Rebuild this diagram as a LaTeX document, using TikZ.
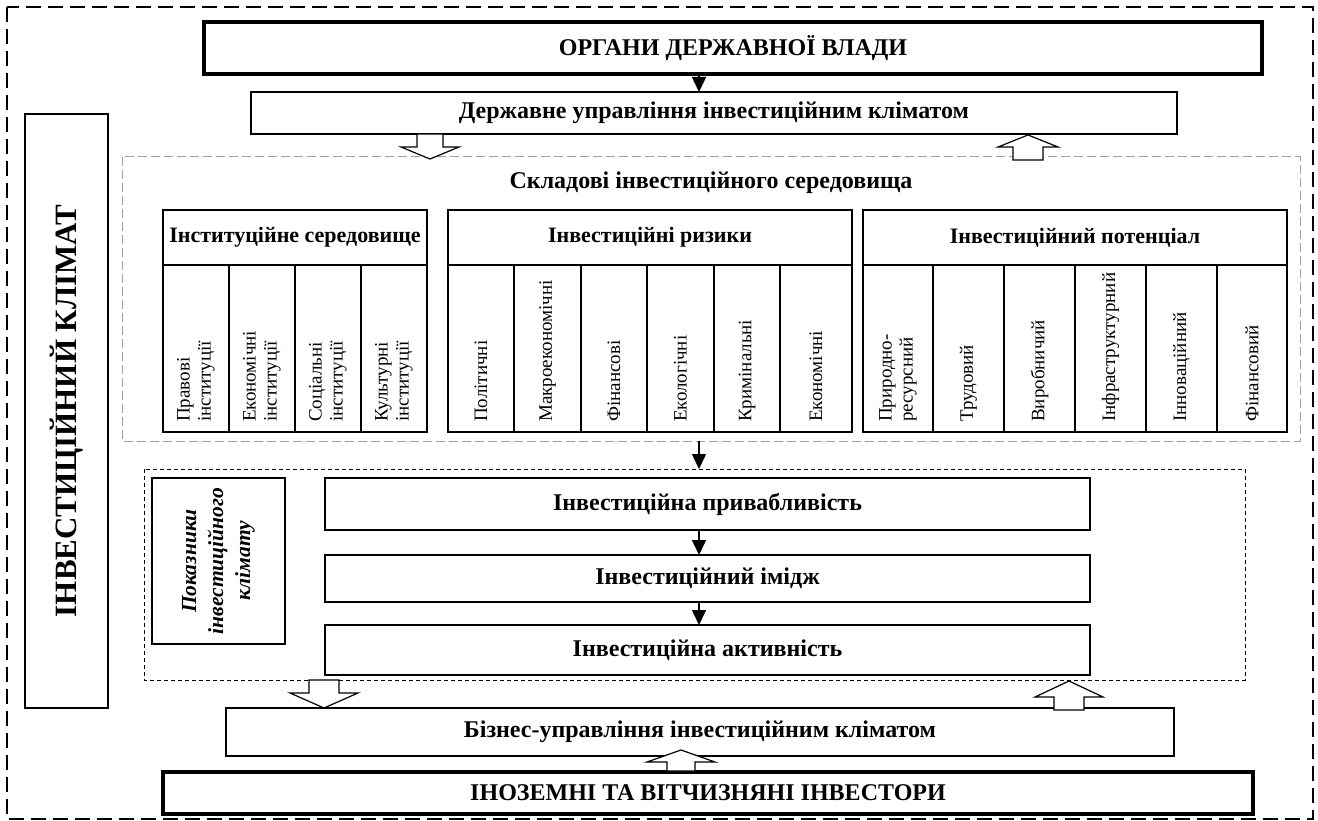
\documentclass[tikz,border=0pt]{standalone}
\usepackage{fontspec}
\setmainfont{Liberation Serif}
\usetikzlibrary{arrows.meta}
\newcommand{\bx}[7][]{\node[#1, minimum width={#4-#2}, minimum height={#5-#3}] (#6) at ({(#2+#4)/2},{(#3+#5)/2}) {#7};}
\newcommand{\fatarrow}[6]{\draw[fat] ({#1-#5},#2) -- ({#1-#5},#3) -- ({#1-#6},#3) -- (#1,#4) -- ({#1+#6},#3) -- ({#1+#5},#3) -- ({#1+#5},#2) -- cycle;}
\begin{document}
\begin{tikzpicture}[x=1pt,y=-1pt,
  box/.style={draw, line width=1.1pt, fill=white, inner sep=0pt, outer sep=0pt, align=center,
    font=\fontsize{24}{28}\selectfont\bfseries},
  headbox/.style={box, font=\fontsize{22}{26}\selectfont\bfseries},
  thickbox/.style={box, line width=4pt, font=\fontsize{24}{28}\selectfont\bfseries},
  colbox/.style={draw, line width=1.1pt, inner sep=0pt, outer sep=0pt},
  coltext/.style={rotate=90, anchor=west, inner sep=0pt, align=left, font=\fontsize{19}{21}\selectfont},
  arr/.style={-{Triangle[length=15pt,width=14pt]}, line width=1.5pt},
  fat/.style={draw, fill=white, line width=1.2pt},
  outerdash/.style={draw, line width=2.2pt, dash pattern=on 15pt off 7pt},
  greydash/.style={draw=gray!75, line width=1pt, dash pattern=on 9pt off 4pt},
  blackdash/.style={draw, line width=1pt, dash pattern=on 4pt off 3pt},
  ]
\useasboundingbox (0,0) rectangle (1318,821);
\fill[white] (0,0) rectangle (1318,821);
% frames
\draw[outerdash] (7,7) rectangle (1313,819);
\draw[greydash] (122,157) rectangle (1300,441);
\draw[blackdash] (144,469) rectangle (1245,680);
\coordinate (xa) at (699,0);
% top
\bx[thickbox]{204}{22}{1262}{74}{organy}{ОРГАНИ ДЕРЖАВНОЇ ВЛАДИ}
\bx[box]{251}{92}{1177}{134}{derzh}{Державне управління інвестиційним кліматом}
\node[font=\fontsize{24}{28}\selectfont\bfseries] (skl) at (711,183) {Складові інвестиційного середовища};
% left
\bx[box]{25}{114}{108}{708}{left}{}
\node[rotate=90, font=\fontsize{31}{34}\selectfont\bfseries] (lefttext) at (left.center) {ІНВЕСТИЦІЙНИЙ КЛІМАТ};
% institutional
\bx[headbox]{163}{210}{427}{265}{insth}{Інституційне середовище}
\bx[colbox]{163}{265}{229}{432}{i1}{}
\bx[colbox]{229}{265}{295}{432}{i2}{}
\bx[colbox]{295}{265}{361}{432}{i3}{}
\bx[colbox]{361}{265}{427}{432}{i4}{}
\node[coltext] (ti1) at ([yshift=10pt]i1.south) {Правові\\інституції};
\node[coltext] (ti2) at ([yshift=10pt]i2.south) {Економічні\\інституції};
\node[coltext] (ti3) at ([yshift=10pt]i3.south) {Соціальні\\інституції};
\node[coltext] (ti4) at ([yshift=10pt]i4.south) {Культурні\\інституції};
% risks
\bx[headbox]{448}{210}{852}{265}{riskh}{Інвестиційні ризики}
\bx[colbox]{448}{265}{514}{432}{r1}{}
\bx[colbox]{514}{265}{581}{432}{r2}{}
\bx[colbox]{581}{265}{647}{432}{r3}{}
\bx[colbox]{647}{265}{714}{432}{r4}{}
\bx[colbox]{714}{265}{780}{432}{r5}{}
\bx[colbox]{780}{265}{852}{432}{r6}{}
\node[coltext] (tr1) at ([yshift=10pt]r1.south) {Політичні};
\node[coltext] (tr2) at ([yshift=10pt]r2.south) {Макроекономічні};
\node[coltext] (tr3) at ([yshift=10pt]r3.south) {Фінансові};
\node[coltext] (tr4) at ([yshift=10pt]r4.south) {Екологічні};
\node[coltext] (tr5) at ([yshift=10pt]r5.south) {Кримінальні};
\node[coltext] (tr6) at ([yshift=10pt]r6.south) {Економічні};
% potential
\bx[headbox]{863}{210}{1287}{265}{poth}{Інвестиційний потенціал}
\bx[colbox]{863}{265}{933}{432}{p1}{}
\bx[colbox]{933}{265}{1004}{432}{p2}{}
\bx[colbox]{1004}{265}{1075}{432}{p3}{}
\bx[colbox]{1075}{265}{1146}{432}{p4}{}
\bx[colbox]{1146}{265}{1217}{432}{p5}{}
\bx[colbox]{1217}{265}{1287}{432}{p6}{}
\node[coltext] (tp1) at ([yshift=10pt]p1.south) {Природно-\\ресурсний};
\node[coltext] (tp2) at ([yshift=10pt]p2.south) {Трудовий};
\node[coltext] (tp3) at ([yshift=10pt]p3.south) {Виробничий};
\node[coltext] (tp4) at ([yshift=10pt]p4.south) {Інфраструктурний};
\node[coltext] (tp5) at ([yshift=10pt]p5.south) {Інноваційний};
\node[coltext] (tp6) at ([yshift=10pt]p6.south) {Фінансовий};
% indicators
\coordinate (greybot) at (699,441);
\coordinate (dashtop) at (699,469);
\bx[box]{152}{478}{285}{644}{pokaz}{}
\node[rotate=90, align=center, inner sep=0pt, font=\fontsize{21.5}{27}\selectfont\bfseries\itshape] (pokaztext) at (pokaz.center) {Показники\\інвестиційного\\клімату};
\bx[box]{325}{478}{1090}{530}{pryv}{Інвестиційна привабливість}
\bx[box]{325}{555}{1090}{602}{imidzh}{Інвестиційний імідж}
\bx[box]{325}{625}{1090}{675}{aktyv}{Інвестиційна активність}
% bottom
\bx[box]{226}{708}{1174}{756}{biznes}{Бізнес-управління інвестиційним кліматом}
\bx[thickbox]{163}{772}{1253}{814}{inoz}{ІНОЗЕМНІ ТА ВІТЧИЗНЯНІ ІНВЕСТОРИ}
% thin arrows
\draw[arr] (organy.south -| xa) -- (derzh.north -| xa);
\draw[arr] (greybot) -- (dashtop);
\draw[arr] (pryv.south -| xa) -- (imidzh.north -| xa);
\draw[arr] (imidzh.south -| xa) -- (aktyv.north -| xa);
% fat arrows
\fatarrow{430}{134}{147}{159}{13}{29}
\fatarrow{1028}{160}{147}{135}{15}{30}
\fatarrow{324}{680}{693}{708}{15}{34}
\fatarrow{1069}{710}{697}{681}{15}{34}
\fatarrow{681}{771}{762}{750}{14}{34}
\end{tikzpicture}
\end{document}
